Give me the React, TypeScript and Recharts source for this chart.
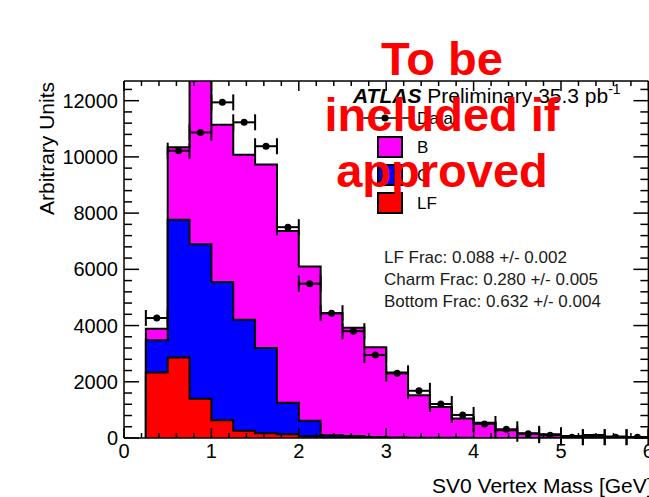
import React from "react";
import { Area, ComposedChart, ErrorBar, ReferenceLine, Scatter, XAxis, YAxis } from "recharts";

// lower bin edges, 0.25 GeV wide
const binLow = [
  0.25, 0.5, 0.75, 1.0, 1.25, 1.5, 1.75, 2.0, 2.25, 2.5, 2.75, 3.0,
  3.25, 3.5, 3.75, 4.0, 4.25, 4.5, 4.75, 5.0, 5.25, 5.5, 5.75,
];
const binWidth = 0.25;

const lfCounts = [2330, 2860, 1400, 630, 260, 170, 130, 60, 20, 10, 5, 0, 0, 0, 0, 0, 0, 0, 0, 0, 0, 0, 0];
const cCounts = [1150, 4900, 5490, 4920, 3950, 3030, 1120, 550, 80, 60, 30, 20, 10, 5, 5, 0, 0, 0, 0, 0, 0, 0, 0];
const bCounts = [410, 2580, 7600, 5590, 5870, 6530, 6110, 5490, 4340, 3850, 3190, 2310, 1510, 1100, 690, 540, 280, 165, 130, 70, 110, 50, 40];
const dataCounts = [4270, 10220, 10870, 11940, 11230, 10380, 7500, 5490, 4440, 3800, 2950, 2300, 1680, 1210, 820, 500, 310, 150, 100, 30, 30, 30, 30];

const xMajor = [0, 1, 2, 3, 4, 5, 6];
const yMajor = [0, 2000, 4000, 6000, 8000, 10000, 12000];
const xTicks = Array.from({ length: 31 }, (_, i) => Math.round(i * 2) / 10);
const yTicks = Array.from({ length: 32 }, (_, i) => i * 400);
const yMax = 12700;

const fracLines = [
  "LF Frac: 0.088 +/- 0.002",
  "Charm Frac: 0.280 +/- 0.005",
  "Bottom Frac: 0.632 +/- 0.004",
];

const W = 649;
const H = 497;
const M = { top: 81, right: 0.6, bottom: 0, left: 0 };
const Y_AXIS_W = 124;
const X_AXIS_H = 59;
const PLOT_W = W - Y_AXIS_W - M.right;
const PLOT_H = H - M.top - X_AXIS_H;
const FONT = "'Liberation Sans', Arial, Helvetica, sans-serif";

// stacked outlines, ROOT THStack style: total, C+LF, LF
const histRows = [
  { x: binLow[0], lf: 0, c: 0, b: 0 },
  ...binLow.map((x, i) => ({
    x,
    lf: lfCounts[i],
    c: lfCounts[i] + cCounts[i],
    b: lfCounts[i] + cCounts[i] + bCounts[i],
  })),
  { x: binLow[binLow.length - 1] + binWidth, lf: 0, c: 0, b: 0 },
];

const points = binLow.map((x, i) => ({ x: x + binWidth / 2, y: dataCounts[i], ex: binWidth / 2 }));

function XTick(props: any) {
  const { x, y, payload } = props;
  const v = payload.value;
  const major = xMajor.some((m) => Math.abs(m - v) < 1e-6);
  const len = major ? 10 : 5;
  return (
    <g>
      <line x1={x} x2={x} y1={y} y2={y - len} stroke="#000" strokeWidth={1.5} />
      <line x1={x} x2={x} y1={y - PLOT_H} y2={y - PLOT_H + len} stroke="#000" strokeWidth={1.5} />
      {major && (
        <text x={x} y={y + 20} textAnchor="middle" fontSize={20} fontFamily={FONT} fill="#000">
          {v}
        </text>
      )}
    </g>
  );
}

function YTick(props: any) {
  const { x, y, payload } = props;
  const v = payload.value;
  const major = yMajor.includes(v);
  const len = major ? 15 : 8;
  return (
    <g>
      <line x1={x} x2={x + len} y1={y} y2={y} stroke="#000" strokeWidth={1.5} />
      <line x1={x + PLOT_W} x2={x + PLOT_W - len} y1={y} y2={y} stroke="#000" strokeWidth={1.5} />
      {major && (
        <text x={x - 6} y={y + 7} textAnchor="end" fontSize={20} fontFamily={FONT} fill="#000">
          {v}
        </text>
      )}
    </g>
  );
}

function Dot(props: any) {
  const { cx, cy } = props;
  if (cx == null || cy == null) return null;
  return <circle cx={cx} cy={cy} r={3.5} fill="#000" />;
}

function Overlay() {
  return (
    <svg
      width={W}
      height={H}
      style={{ position: "absolute", left: 0, top: 0, pointerEvents: "none" }}
      fontFamily={FONT}
    >
      {/* axis titles */}
      <text transform="translate(54,82) rotate(-90)" textAnchor="end" fontSize={21} fill="#000">
        Arbitrary Units
      </text>
      <text x={432} y={493} fontSize={21} fill="#000">
        SV0 Vertex Mass [GeV]
      </text>

      {/* ATLAS label */}
      <text x={353} y={103} fontSize={21} fill="#000">
        <tspan fontWeight="bold" fontStyle="italic">ATLAS</tspan>
        <tspan> Preliminary 35.3 pb</tspan>
        <tspan fontSize={14} dy={-9}>-1</tspan>
      </text>

      {/* legend */}
      <line x1={363} x2={410} y1={118} y2={118} stroke="#000" strokeWidth={1.5} />
      <circle cx={385} cy={118} r={3.5} fill="#000" />
      <text x={417} y={124} fontSize={17} fill="#000">Data</text>
      <rect x={378} y={137} width={24} height={20} fill="#ff00ff" stroke="#000" strokeWidth={2} />
      <text x={417} y={153} fontSize={17} fill="#000">B</text>
      <rect x={378} y={165} width={24} height={20} fill="#0000ff" stroke="#000" strokeWidth={2} />
      <text x={417} y={181} fontSize={17} fill="#000">C</text>
      <rect x={378} y={193} width={24} height={20} fill="#ff0000" stroke="#000" strokeWidth={2} />
      <text x={417} y={209} fontSize={17} fill="#000">LF</text>

      {fracLines.map((t, i) => (
        <text key={t} x={384} y={263 + i * 22} fontSize={17} fill="#1a1a1a">
          {t}
        </text>
      ))}

      {/* stamp */}
      <g fill="#ff0000" fontWeight="bold" fontSize={47} textAnchor="middle">
        <text x={442} y={75}>To be</text>
        <text x={442} y={131}>included if</text>
        <text x={442} y={187}>approved</text>
      </g>
    </svg>
  );
}

export default function App() {
  return (
    <div style={{ position: "absolute", left: 0, top: 0, width: W, height: H, background: "#fff" }}>
      <ComposedChart width={W} height={H} data={histRows} margin={M}>
        <XAxis
          type="number"
          dataKey="x"
          domain={[0, 6]}
          allowDataOverflow
          ticks={xTicks}
          interval={0}
          height={X_AXIS_H}
          tickSize={0}
          tickMargin={0}
          tickLine={false}
          tick={<XTick />}
          axisLine={{ stroke: "#000", strokeWidth: 1.5 }}
        />
        <YAxis
          type="number"
          domain={[0, yMax]}
          allowDataOverflow
          ticks={yTicks}
          interval={0}
          width={Y_AXIS_W}
          tickSize={0}
          tickMargin={0}
          tickLine={false}
          tick={<YTick />}
          axisLine={{ stroke: "#000", strokeWidth: 1.5 }}
        />
        <Area
          type="stepAfter"
          dataKey="b"
          stroke="#000"
          strokeWidth={2}
          fill="#ff00ff"
          fillOpacity={1}
          dot={false}
          activeDot={false}
          isAnimationActive={false}
        />
        <Area
          type="stepAfter"
          dataKey="c"
          stroke="#000"
          strokeWidth={2}
          fill="#0000ff"
          fillOpacity={1}
          dot={false}
          activeDot={false}
          isAnimationActive={false}
        />
        <Area
          type="stepAfter"
          dataKey="lf"
          stroke="#000"
          strokeWidth={2}
          fill="#ff0000"
          fillOpacity={1}
          dot={false}
          activeDot={false}
          isAnimationActive={false}
        />
        <Scatter data={points} dataKey="y" shape={<Dot />} isAnimationActive={false}>
          <ErrorBar dataKey="ex" direction="x" width={8} stroke="#000" strokeWidth={2} />
        </Scatter>
        <ReferenceLine y={yMax} stroke="#000" strokeWidth={1.5} />
        <ReferenceLine x={6} stroke="#000" strokeWidth={1.5} />
      </ComposedChart>
      <Overlay />
    </div>
  );
}
